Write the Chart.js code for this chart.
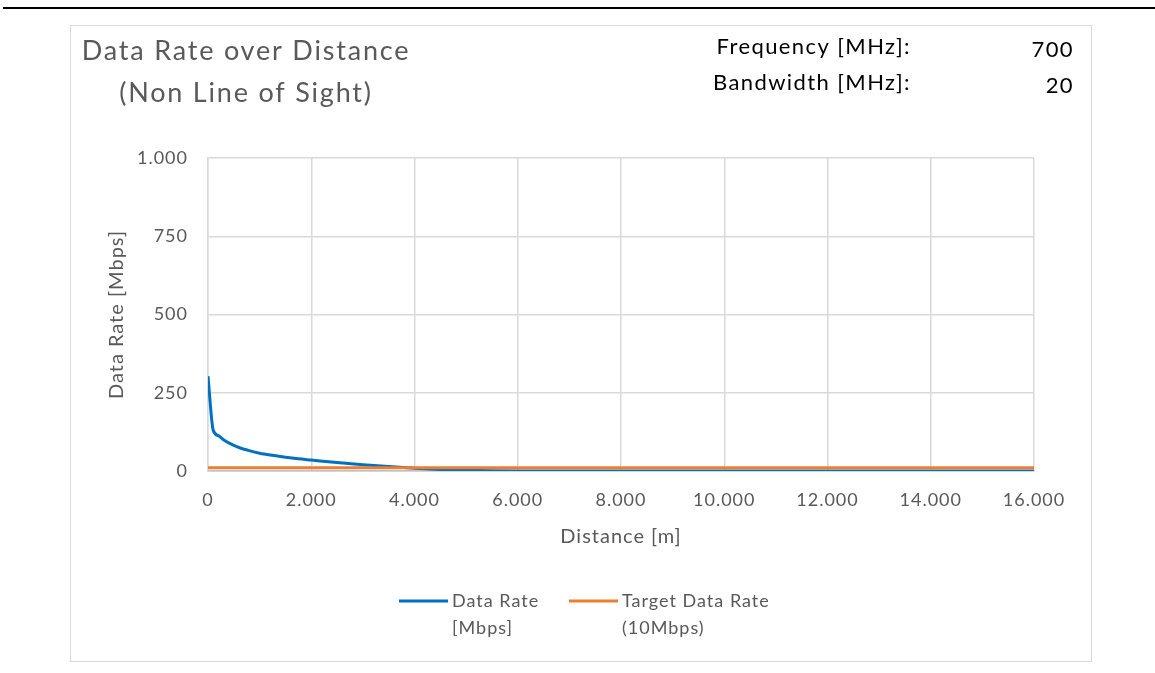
<!DOCTYPE html>
<html>
<head>
<meta charset="utf-8">
<script src="https://cdn.jsdelivr.net/npm/chart.js@4.4.1/dist/chart.umd.min.js"></script>
<style>
  html, body { margin: 0; padding: 0; background: #ffffff; }
  body { width: 1155px; height: 673px; position: relative; overflow: hidden; }
  #topline { position: absolute; left: 3px; top: 7px; width: 1152px; height: 2px; background: #000; }
  #box { position: absolute; left: 70px; top: 25px; width: 1020px; height: 635px; border: 1.5px solid #d9d9d9; }
  canvas { position: absolute; left: 0; top: 0; }
</style>
</head>
<body>
<div id="topline"></div>
<div id="box"></div>
<canvas id="c" width="1155" height="673"></canvas>
<script>
// ---- data ----
const distances = [0, 100, 200, 300, 400, 500, 600, 800, 1000, 1250, 1500, 1750, 2000, 2500, 3000, 3500, 4000, 4500, 5000, 5500, 6000, 8000, 10000, 12000, 14000, 16000];
const dataRate  = [303, 131, 113, 100, 90, 82, 75, 65, 57, 50, 44, 39, 35, 27, 20, 14, 9, 5, 2, 0.5, 0, 0, 0, 0, 0, 0];
const targetRate = [10, 10, 10, 10, 10, 10, 10, 10, 10, 10, 10, 10, 10, 10, 10, 10, 10, 10, 10, 10, 10, 10, 10, 10, 10, 10];
const seriesLabels = [['Data Rate', '[Mbps]'], ['Target Data Rate', '(10Mbps)']];
const seriesColors = ['#0070C0', '#ED7D31'];
const titleLines = ['Data Rate over Distance', '(Non Line of Sight)'];
const infoLabels = ['Frequency [MHz]:', 'Bandwidth [MHz]:'];
const infoValues = ['700', '20'];
const xTitle = 'Distance [m]';
const yTitle = 'Data Rate [Mbps]';

const FONT = 'Lato, "Open Sans", sans-serif';
const GREY = '#595959';

function fmt(v) {
  return Math.round(v).toString().replace(/\B(?=(\d{3})+(?!\d))/g, '.');
}

const spacing = {
  id: 'spacing',
  beforeUpdate(chart) { chart.ctx.letterSpacing = '1px'; },
  beforeDraw(chart) { chart.ctx.letterSpacing = '1px'; }
};

const overlay = {
  id: 'overlay',
  afterDraw(chart) {
    const ctx = chart.ctx;
    ctx.save();
    // title
    ctx.fillStyle = GREY;
    ctx.font = '27px ' + FONT;
    ctx.letterSpacing = '1.8px';
    ctx.textAlign = 'center';
    ctx.textBaseline = 'middle';
    ctx.fillText(titleLines[0], 246, 51);
    ctx.fillText(titleLines[1], 246, 93);
    // info block
    ctx.fillStyle = '#000000';
    ctx.font = '22px ' + FONT;
    ctx.letterSpacing = '1.4px';
    ctx.textAlign = 'right';
    ctx.fillText(infoLabels[0], 911, 47);
    ctx.fillText(infoLabels[1], 911, 83);
    ctx.fillText(infoValues[0], 1074, 50);
    ctx.fillText(infoValues[1], 1074, 86);
    // legend
    const legendX = [399, 569];
    ctx.font = '18px ' + FONT;
    ctx.letterSpacing = '1px';
    ctx.textAlign = 'left';
    chart.data.datasets.forEach((ds, i) => {
      const x = legendX[i];
      ctx.strokeStyle = ds.borderColor;
      ctx.lineWidth = 3;
      ctx.beginPath();
      ctx.moveTo(x, 601);
      ctx.lineTo(x + 49, 601);
      ctx.stroke();
      ctx.fillStyle = GREY;
      const lines = seriesLabels[i];
      lines.forEach((t, j) => ctx.fillText(t, x + 53, 601 + j * 27));
    });
    ctx.restore();
  }
};

new Chart(document.getElementById('c'), {
  type: 'scatter',
  data: {
    datasets: [
      {
        label: seriesLabels[0].join(' '),
        data: distances.map((d, i) => ({ x: d, y: dataRate[i] })),
        borderColor: seriesColors[0],
        backgroundColor: seriesColors[0],
        showLine: true,
        borderWidth: 3,
        pointRadius: 0,
        cubicInterpolationMode: 'monotone',
        order: 2
      },
      {
        label: seriesLabels[1].join(' '),
        data: distances.map((d, i) => ({ x: d, y: targetRate[i] })),
        borderColor: seriesColors[1],
        backgroundColor: seriesColors[1],
        showLine: true,
        borderWidth: 3,
        pointRadius: 0,
        order: 1
      }
    ]
  },
  options: {
    responsive: false,
    animation: false,
    layout: { padding: { left: 100, right: 121, top: 158, bottom: 124 } },
    plugins: { legend: { display: false }, tooltip: { enabled: false } },
    scales: {
      x: {
        type: 'linear',
        min: 0, max: 16000,
        afterFit(s) { s.height = 78; },
        border: { color: '#bfbfbf', width: 1.5 },
        grid: { color: '#d9d9d9', lineWidth: 1.5, drawTicks: false },
        ticks: {
          stepSize: 2000, color: GREY, padding: 18,
          font: { family: FONT, size: 18 },
          callback: v => fmt(v)
        },
        title: { display: true, text: xTitle, color: GREY, font: { family: FONT, size: 20 }, padding: { top: 6, bottom: 0 } }
      },
      y: {
        min: 0, max: 1000,
        afterFit(s) { s.width = 108; },
        border: { color: '#d9d9d9', width: 1.5 },
        grid: { color: '#d9d9d9', lineWidth: 1.5, drawTicks: false },
        ticks: {
          stepSize: 250, color: GREY, padding: 20,
          font: { family: FONT, size: 18 },
          callback: v => fmt(v)
        },
        title: { display: true, text: yTitle, color: GREY, font: { family: FONT, size: 20 }, padding: { top: 5, bottom: 0 } }
      }
    }
  },
  plugins: [spacing, overlay]
});
</script>
</body>
</html>
